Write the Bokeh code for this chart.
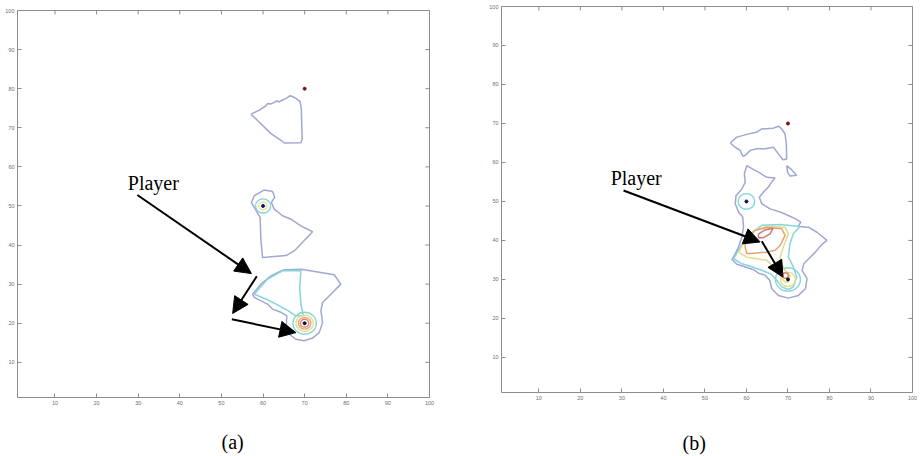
from bokeh.plotting import figure
from bokeh.layouts import row, column
from bokeh.models import FixedTicker, Range1d, Arrow, NormalHead, Label
from bokeh.embed import file_html
from bokeh.resources import INLINE

# ---------------- data ----------------
TICKS = [10, 20, 30, 40, 50, 60, 70, 80, 90, 100]
AXIS_MIN, AXIS_MAX = 1, 100

# Panel (a) contour outlines
A_top_x = [57.1, 59.1, 60.7, 61.1, 61.9, 62.7, 63.3, 63.9, 64.7, 65.7, 66.5, 67.1, 67.9, 68.9, 69.2, 69.3, 69.4, 69.1, 65.1, 64.3, 61.9, 57.1]
A_top_y = [73.5, 74.5, 75.6, 76.2, 76.1, 76.5, 76.9, 76.6, 77.1, 77.6, 78.2, 78.0, 77.5, 76.7, 74.8, 70.9, 67.1, 66.2, 66.1, 66.8, 68.5, 73.5]

A_mid_x = [60.3, 62.3, 62.8, 62.0, 62.7, 64.7, 66.7, 69.1, 71.9, 69.5, 67.5, 65.5, 59.9, 59.5, 59.3, 57.9, 57.2, 57.9, 60.3]
A_mid_y = [54.1, 53.7, 52.2, 50.9, 49.2, 47.5, 46.6, 44.9, 43.4, 40.7, 38.5, 37.3, 36.8, 41.1, 47.1, 49.6, 50.9, 52.6, 54.1]

A_bot_x = [64.7, 69.1, 73.9, 77.1, 78.7, 76.3, 74.3, 73.9, 74.3, 73.5, 71.9, 69.9, 67.9, 66.3, 65.6, 65.7, 64.3, 62.3, 61.1, 59.5, 57.9, 57.5, 59.5, 61.9, 64.7]
A_bot_y = [33.6, 33.8, 33.0, 32.4, 30.0, 27.4, 25.3, 23.2, 20.2, 17.6, 16.2, 15.5, 15.9, 17.2, 19.3, 21.9, 22.8, 23.6, 24.9, 25.7, 26.6, 27.4, 30.0, 32.1, 33.6]

A_cyan_x = [57.9, 61.1, 64.7, 69.1, 68.8, 69.1, 69.7, 67.9, 65.9, 63.5, 60.7, 57.9]
A_cyan_y = [27.4, 31.3, 33.4, 33.5, 29.1, 24.9, 21.9, 21.9, 23.3, 24.7, 26.2, 27.4]

# Panel (a) rings around the agents: centre x, centre y, radius, level colour
A_ring_x = [60, 60, 70, 70, 70, 70]
A_ring_y = [50, 50, 20, 20, 20, 20]
A_ring_r = [1.8, 1.0, 2.8, 2.1, 1.5, 1.0]
A_ring_c = ["#86d4dc", "#e6df8a", "#86d4dc", "#e6df8a", "#eaa878", "#d88080"]

A_dot_x = [70, 60, 70]
A_dot_y = [80, 50, 20]
A_dot_c = ["#7a1010", "#101060", "#111111"]

# Panel (a) arrows: start -> end
A_arr_x0 = [29.8, 58.5, 52.5]
A_arr_y0 = [52.8, 32.0, 21.0]
A_arr_x1 = [57.2, 52.7, 67.9]
A_arr_y1 = [32.7, 22.5, 17.6]

A_player = (27.5, 56.0)

# Panel (b) contour outlines
B_top_x = [56.1, 57.7, 60.1, 62.5, 63.7, 66.5, 67.7, 68.5, 69.3, 69.6, 69.7, 68.8, 67.7, 66.5, 64.5, 62.5, 60.9, 59.7, 59.1, 58.5, 57.3, 56.1]
B_top_y = [65.0, 66.5, 67.2, 67.8, 68.6, 68.8, 69.3, 68.6, 67.3, 64.8, 60.9, 60.7, 62.2, 63.9, 63.5, 63.5, 63.1, 61.8, 61.6, 63.1, 63.9, 65.0]

B_tri_x = [69.7, 70.7, 72.1, 70.5, 69.9, 69.7]
B_tri_y = [59.2, 58.3, 56.7, 56.5, 57.5, 59.2]

B_big_x = [60.1, 61.3, 62.9, 64.9, 66.9, 66.1, 65.3, 64.1, 63.1, 63.7, 65.7, 68.1, 70.1, 71.7, 73.1, 72.5, 74.9, 77.0, 79.4, 78.2, 76.6, 75.0, 73.8, 73.4, 74.6, 74.2, 72.5, 70.1, 67.7, 66.1, 65.6, 64.5, 62.9, 61.7, 59.7, 57.7, 56.5, 57.3, 58.1, 58.9, 59.3, 59.1, 58.1, 57.3, 57.5, 58.9, 59.7, 59.5, 60.1]
B_big_y = [59.2, 58.4, 57.5, 56.2, 56.0, 55.0, 53.7, 52.4, 51.1, 49.4, 48.1, 47.3, 46.4, 45.6, 44.7, 43.6, 43.4, 42.1, 40.0, 39.0, 37.0, 35.3, 34.0, 32.3, 30.2, 27.6, 25.9, 25.2, 25.9, 27.6, 29.8, 31.1, 31.6, 32.5, 33.2, 33.9, 35.1, 36.6, 38.3, 40.9, 43.4, 46.0, 47.3, 49.4, 51.5, 53.2, 54.9, 57.1, 59.2]

B_cyan_x = [56.9, 58.5, 60.9, 63.7, 68.1, 72.9, 71.3, 70.5, 70.1, 71.3, 72.1, 71.3, 70.1, 68.5, 67.3, 65.7, 63.3, 60.9, 58.9, 56.9]
B_cyan_y = [35.3, 38.3, 41.7, 43.9, 44.1, 43.6, 41.7, 39.2, 35.7, 33.2, 30.6, 28.1, 27.4, 28.1, 29.8, 31.5, 32.5, 33.4, 34.0, 35.3]

B_yel_x = [58.1, 59.7, 62.1, 64.9, 69.3, 70.1, 68.9, 68.1, 68.5, 69.3, 70.5, 70.1, 69.3, 68.1, 66.5, 64.9, 62.5, 60.1, 58.1]
B_yel_y = [37.0, 40.0, 42.6, 43.6, 43.4, 41.7, 38.3, 35.7, 34.0, 32.3, 31.0, 29.3, 29.3, 31.0, 33.2, 34.9, 35.3, 35.7, 37.0]

B_org_x = [59.7, 62.1, 64.9, 68.5, 69.3, 68.1, 66.9, 64.9, 62.5, 60.1, 59.7, 59.7]
B_org_y = [40.0, 42.6, 43.3, 43.0, 41.3, 38.7, 37.5, 37.0, 36.8, 36.6, 38.3, 40.0]

B_red_x = [62.9, 64.5, 66.4, 65.7, 64.1, 62.9, 62.9]
B_red_y = [41.7, 42.7, 43.1, 41.7, 40.7, 40.7, 41.7]

B_ring_x = [60, 70, 70, 69.4]
B_ring_y = [50, 30, 30, 31.0]
B_ring_r = [2.0, 3.0, 1.8, 0.7]
B_ring_c = ["#86d4dc", "#86d4dc", "#e6df8a", "#d88080"]

B_dot_x = [70, 60, 70]
B_dot_y = [70, 50, 30]
B_dot_c = ["#7a1010", "#101060", "#111111"]

B_arr_x0 = [30.4, 63.7]
B_arr_y0 = [52.8, 39.8]
B_arr_x1 = [63.3, 68.8]
B_arr_y1 = [39.6, 30.6]

B_player = (27.3, 56.1)

CAPTIONS = ["(a)", "(b)"]
CAPTION_X = [52.7, 47.4]   # caption centres in each panel's x units

# ---------------- styles ----------------
LAV = "#a0a7d2"
CYAN = "#86d4dc"
YEL = "#e2dc86"
ORG = "#e6a274"
RED = "#c97a78"
GRAY = "#8c8c8c"
TICK_FONT = "5.5px"
SERIF = "Liberation Serif"


def style_axis(ax):
    ax.ticker = FixedTicker(ticks=TICKS)
    ax.axis_line_color = None
    ax.major_tick_line_color = GRAY
    ax.major_tick_in = 4
    ax.major_tick_out = 0
    ax.minor_tick_line_color = None
    ax.major_label_text_color = "#6e6e6e"
    ax.major_label_text_font = "Liberation Sans"
    ax.major_label_text_font_size = TICK_FONT
    ax.major_label_standoff = 3


def make_panel(width, height, left, right, top, bottom):
    p = figure(width=width, height=height, output_backend="svg", toolbar_location=None,
               title=None,
               x_range=Range1d(AXIS_MIN, AXIS_MAX), y_range=Range1d(AXIS_MIN, AXIS_MAX),
               min_border_left=left, min_border_right=right,
               min_border_top=top, min_border_bottom=bottom)
    p.grid.visible = False
    p.outline_line_color = GRAY
    p.outline_line_width = 1
    style_axis(p.xaxis[0])
    style_axis(p.yaxis[0])
    # inward ticks on the top and right edges of the box (MATLAB "box on")
    n = len(TICKS)
    p.segment(x0=TICKS, y0=[AXIS_MAX] * n, x1=TICKS, y1=[AXIS_MAX - 1.0] * n,
              line_color=GRAY, line_width=1)
    p.segment(x0=[AXIS_MAX] * n, y0=TICKS, x1=[AXIS_MAX - 1.0] * n, y1=TICKS,
              line_color=GRAY, line_width=1)
    return p


def add_common(p, dots_x, dots_y, dots_c, rings, arrows, player):
    rx, ry, rr, rc = rings
    p.ellipse(x=rx, y=ry, width=[2 * r for r in rr], height=[2 * r for r in rr],
              fill_color=None, line_color=rc, line_width=1.4)
    p.scatter(x=dots_x, y=dots_y, size=3, color=dots_c)
    x0, y0, x1, y1 = arrows
    for a, b, c, d in zip(x0, y0, x1, y1):
        p.add_layout(Arrow(x_start=a, y_start=b, x_end=c, y_end=d, line_color="black", line_width=2,
                           end=NormalHead(size=16, fill_color="black", line_color="black")))
    p.add_layout(Label(x=player[0], y=player[1], text="Player", text_font=SERIF,
                       text_font_size="20px", text_color="black", text_baseline="alphabetic"))


def make_caption(width, height, left, right, text, cx, cy):
    c = figure(width=width, height=height, output_backend="svg", toolbar_location=None,
               title=None,
               x_range=Range1d(AXIS_MIN, AXIS_MAX), y_range=Range1d(0, height),
               x_axis_type=None, y_axis_type=None,
               min_border_left=left, min_border_right=right, min_border_top=0, min_border_bottom=0)
    c.grid.visible = False
    c.outline_line_color = None
    c.add_layout(Label(x=cx, y=cy, text=text, text_font=SERIF, text_font_size="20px",
                       text_color="black", text_align="center", text_baseline="middle"))
    return c


# ---------------- panel (a) ----------------
pa = make_panel(465, 414, 17, 36, 10, 17)
for xs, ys, col in [(A_top_x, A_top_y, LAV), (A_mid_x, A_mid_y, LAV),
                    (A_bot_x, A_bot_y, LAV), (A_cyan_x, A_cyan_y, CYAN)]:
    pa.line(xs, ys, line_color=col, line_width=1.5)
add_common(pa, A_dot_x, A_dot_y, A_dot_c, (A_ring_x, A_ring_y, A_ring_r, A_ring_c),
           (A_arr_x0, A_arr_y0, A_arr_x1, A_arr_y1), A_player)

# ---------------- panel (b) ----------------
pb = make_panel(455, 414, 36, 8, 6, 22)
for xs, ys, col in [(B_top_x, B_top_y, LAV), (B_tri_x, B_tri_y, LAV), (B_big_x, B_big_y, LAV),
                    (B_cyan_x, B_cyan_y, CYAN), (B_yel_x, B_yel_y, YEL),
                    (B_org_x, B_org_y, ORG), (B_red_x, B_red_y, RED)]:
    pb.line(xs, ys, line_color=col, line_width=1.5)
add_common(pb, B_dot_x, B_dot_y, B_dot_c, (B_ring_x, B_ring_y, B_ring_r, B_ring_c),
           (B_arr_x0, B_arr_y0, B_arr_x1, B_arr_y1), B_player)

ca = make_caption(465, 42, 17, 36, CAPTIONS[0], CAPTION_X[0], 15)
cb = make_caption(455, 42, 36, 8, CAPTIONS[1], CAPTION_X[1], 14)

layout = row(column(pa, ca), column(pb, cb))
open("out.html", "w").write(file_html(layout, INLINE))
